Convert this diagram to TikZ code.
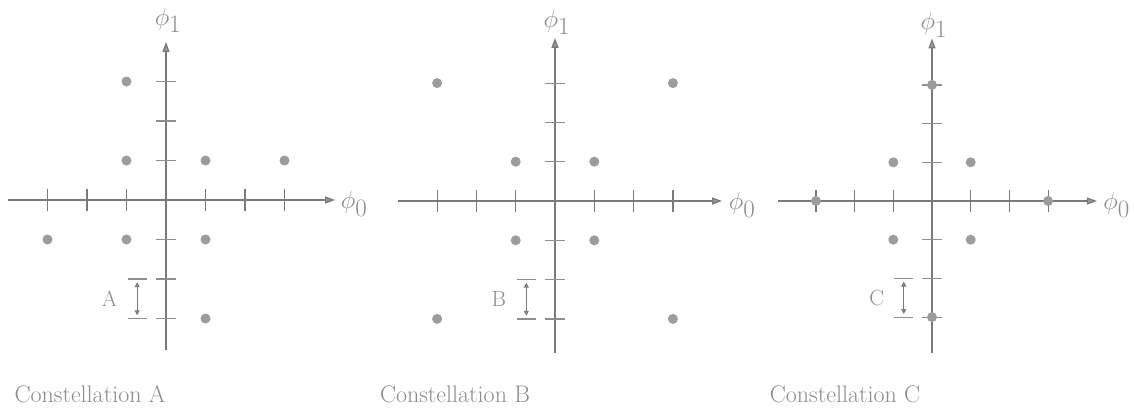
\RequirePackage{fix-cm}
\documentclass[tikz,border=0pt]{standalone}
\usepackage{fontspec}
\usetikzlibrary{arrows.meta}
\definecolor{axgray}{HTML}{7A7A7A}
\definecolor{ticklight}{HTML}{8E8E8E}
\definecolor{dotgray}{HTML}{9C9C9C}
\definecolor{txtgray}{HTML}{8C8C8C}
\tikzset{
  axis/.style={draw=axgray, line width=1.3pt, -{Triangle[length=10pt,width=7pt,fill=dotgray]}},
  tickline/.style={draw=axgray, line width=1.2pt},
  vtick/.style={draw=ticklight, line width=1.2pt},
  dbl/.style={draw=axgray, line width=1.1pt, {Triangle[length=5pt,width=5pt,fill=dotgray]}-{Triangle[length=5pt,width=5pt,fill=dotgray]}},
  lab/.style={text=txtgray, inner sep=0pt, font=\fontsize{22}{26}\selectfont},
  philab/.style={text=txtgray, inner sep=0pt, font=\fontsize{25}{29}\selectfont},
  captext/.style={text=txtgray, inner sep=0pt, font=\fontsize{24}{28}\selectfont},
  dotfill/.style={fill=dotgray}
}
\newcommand{\constpanel}[9]{%
\begin{scope}[shift={(#2pt,#3pt)}, x=#4pt, y=#4pt]
  \coordinate (#1l) at (#5,0);
  \coordinate (#1r) at (#6,0);
  \coordinate (#1t) at (0,#7);
  \coordinate (#1b) at (0,-#8);
  \draw[axis] (#1l) -- (#1r);
  \draw[axis] (#1b) -- (#1t);
  \foreach \i in {-3,-2,-1,1,2,3} {
    \draw[tickline] (\i,-0.28) -- (\i,0.28);
    \draw[vtick] (-0.25,\i) -- (0.25,\i);
  }
  \node[philab, anchor=west] (#1phi0) at (4.42,-0.1) {$\phi_{\textstyle 0}$};
  \node[philab] (#1phi1) at (0.05,4.55) {$\phi_{\textstyle 1}$};
  \coordinate (#1m1) at (-0.73,-2.08);
  \coordinate (#1m2) at (-0.73,-2.92);
  \draw[vtick] (-0.97,-2) -- (-0.49,-2);
  \draw[vtick] (-0.97,-3) -- (-0.49,-3);
  \draw[dbl] (#1m1) -- (#1m2);
  \node[lab] (#1lab) at (-1.43,-2.5) {#9};
\end{scope}}
\begin{document}
\begin{tikzpicture}[x=1pt,y=1pt]
\useasboundingbox (0,0) rectangle (1134,-415);
\constpanel{A}{166}{-200}{39.5}{-4.0}{4.28}{4.0}{3.8}{A}
\constpanel{B}{555}{-201}{39.3}{-4.0}{4.25}{4.15}{3.87}{B}
\constpanel{C}{932}{-201}{38.7}{-3.98}{4.26}{4.2}{3.93}{C}
% dots A
\begin{scope}[shift={(166pt,-200pt)}, x=39.5pt, y=39.5pt]
  \foreach \p in {(-1,3),(-1,1),(1,1),(3,1),(-3,-1),(-1,-1),(1,-1),(1,-3)}
    \fill[dotfill] \p circle (5pt);
\end{scope}
% dots B
\begin{scope}[shift={(555pt,-201pt)}, x=39.3pt, y=39.3pt]
  \foreach \p in {(-3,3),(3,3),(-1,1),(1,1),(-1,-1),(1,-1),(-3,-3),(3,-3)}
    \fill[dotfill] \p circle (5pt);
\end{scope}
% dots C
\begin{scope}[shift={(932pt,-201pt)}, x=38.7pt, y=38.7pt]
  \foreach \p in {(-3,0),(3,0),(0,3),(0,-3),(-1,1),(1,1),(-1,-1),(1,-1)}
    \fill[dotfill] \p circle (5pt);
\end{scope}
\node[captext] (capA) at (90,-394) {Constellation A};
\node[captext] (capB) at (455,-394) {Constellation B};
\node[captext] (capC) at (845,-394) {Constellation C};
\end{tikzpicture}
\end{document}
